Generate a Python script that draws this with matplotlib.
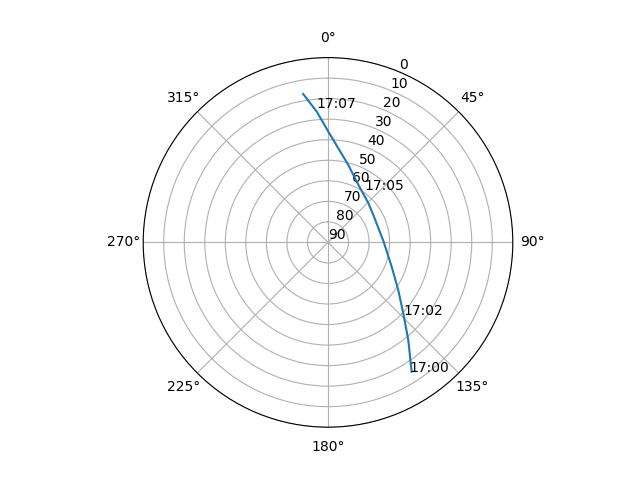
import numpy as np
import matplotlib
matplotlib.use("Agg")
import matplotlib.pyplot as plt

# satellite pass track (azimuth deg, elevation deg)
azimuth = [147.1, 140.6, 133.3, 124.1, 110.9, 89.3, 58.8, 45.9, 25.3, 14.7, 6.25, 0.2, 355.1, 350.5]
elevation = [15.0, 28.4, 39.6, 48.7, 56.8, 62.9, 64.2, 62.6, 57.3, 51.0, 43.9, 36.1, 26.1, 16.7]

# time labels
label_text = ["17:00", "17:02", "17:05", "17:07"]
label_az = [148.0, 133.8, 34.5, 354.9]
label_el = [15.3, 38.8, 59.0, 24.4]

fig = plt.figure(figsize=(6.4, 4.8), dpi=100)
ax = fig.add_subplot(projection="polar")
ax.set_theta_zero_location("N")
ax.set_theta_direction(-1)

ax.plot(np.radians(azimuth), elevation)
for txt, a, e in zip(label_text, label_az, label_el):
    ax.text(np.radians(a), e, txt)

ax.set_rlim(90, 0)
ax.set_yticks(range(0, 91, 10))

fig.savefig("out.png")
